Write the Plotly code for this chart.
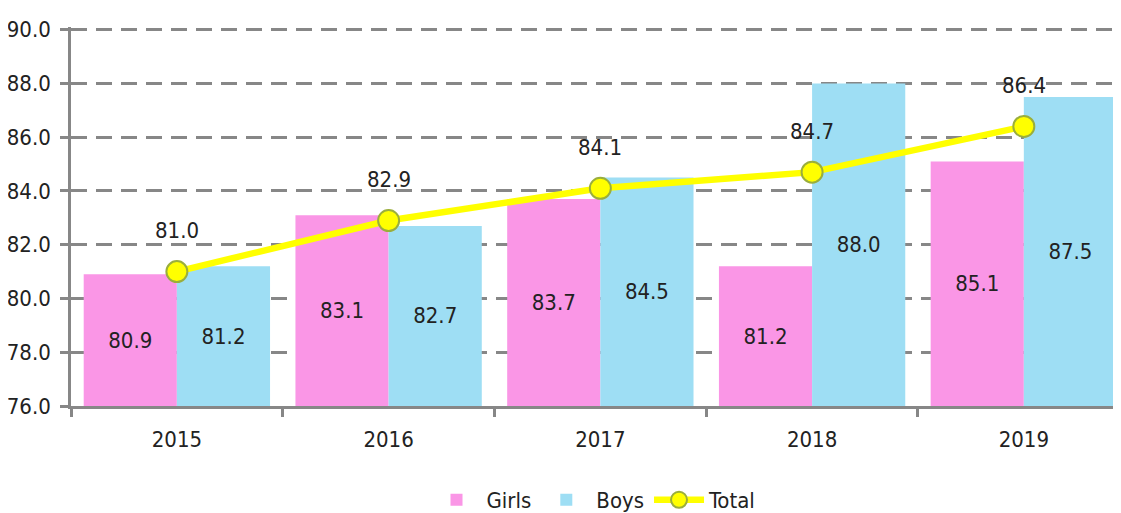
import plotly.graph_objects as go

years = ["2015", "2016", "2017", "2018", "2019"]
girls = [80.9, 83.1, 83.7, 81.2, 85.1]
boys = [81.2, 82.7, 84.5, 88.0, 87.5]
total = [81.0, 82.9, 84.1, 84.7, 86.4]
y_ticks = [76, 78, 80, 82, 84, 86, 88, 90]
y_min = 76

FONT = "Liberation Sans Narrow, DejaVu Sans Condensed, Roboto, sans-serif"
TXT = "#222222"
GRID = "#878787"
FS = 22

fig = go.Figure()
fig.add_trace(go.Bar(
    name="Girls", x=years, y=[v - y_min for v in girls], base=y_min,
    marker=dict(color="#FA96E6", line=dict(width=0)),
    text=[f"{v:.1f}" for v in girls], textposition="inside",
    insidetextanchor="middle", textangle=0,
    textfont=dict(family=FONT, size=FS, color=TXT),
))
fig.add_trace(go.Bar(
    name="Boys", x=years, y=[v - y_min for v in boys], base=y_min,
    marker=dict(color="#9EDEF4", line=dict(width=0)),
    text=[f"{v:.1f}" for v in boys], textposition="inside",
    insidetextanchor="middle", textangle=0,
    textfont=dict(family=FONT, size=FS, color=TXT),
))
fig.add_trace(go.Scatter(
    name="Total", x=years, y=total, mode="lines+markers",
    line=dict(color="#FFFF00", width=6.5),
    marker=dict(size=21, color="#FFFF00", line=dict(color="#9AAE3C", width=2)),
))

for i, v in enumerate(total):
    fig.add_annotation(x=i, y=v, xref="x", yref="y", text=f"{v:.1f}", showarrow=False,
                       yshift=41, font=dict(family=FONT, size=FS, color=TXT))

fig.update_layout(
    width=1113, height=505,
    margin=dict(l=63, r=4, t=19, b=107, autoexpand=False),
    paper_bgcolor="white", plot_bgcolor="white",
    barmode="group", bargap=0.12, bargroupgap=0,
    font=dict(family=FONT, size=FS, color=TXT),
    showlegend=True,
    legend=dict(orientation="h", x=0.5, xanchor="center", y=-0.248, yanchor="middle",
                font=dict(family=FONT, size=FS, color=TXT), traceorder="normal",
                itemwidth=50),
    uniformtext=dict(minsize=8, mode="show"),
)
fig.update_xaxes(
    type="category", range=[-0.5, 4.44],
    showline=True, linecolor=GRID, linewidth=2.5,
    ticks="outside", tickson="boundaries", ticklen=8, tickcolor=GRID, tickwidth=2.5,
    tickfont=dict(family=FONT, size=FS, color=TXT), ticklabelstandoff=12,
    showgrid=False,
)
fig.update_yaxes(
    range=[76, 90.1], tickvals=y_ticks, ticktext=[f"{v:.1f}" for v in y_ticks],
    showline=True, linecolor=GRID, linewidth=2.5,
    ticks="outside", ticklen=8, tickcolor=GRID, tickwidth=2.5,
    tickfont=dict(family=FONT, size=FS, color=TXT), ticklabelstandoff=5,
    showgrid=True, gridcolor=GRID, gridwidth=2.5, griddash="16px,9px",
    zeroline=False,
)

fig.write_html("out.html")
